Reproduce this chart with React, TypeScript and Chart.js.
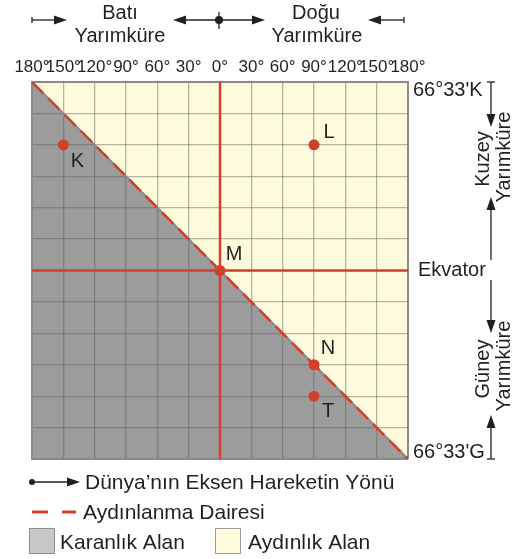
import { useEffect, useRef } from 'react';
import { Chart, registerables } from 'chart.js';

Chart.register(...registerables);

// ---- data ----
const xTickLabels = ['180°', '150°', '120°', '90°', '60°', '30°', '0°', '30°', '60°', '90°', '120°', '150°', '180°'];
const lonMin = -180;
const lonMax = 180;
const rowMin = -6;
const rowMax = 6;
const latLabels = ["66°33'K", 'Ekvator', "66°33'G"];

const pointNames = ['K', 'L', 'M', 'N', 'T'];
const pointLon = [-150, 90, 0, 90, 90];
const pointRow = [4, 4, 0, -3, -4];

const terminatorLon = [-180, 180];
const terminatorRow = [6, -6];
const equatorLon = [-180, 180];
const equatorRow = [0, 0];
const meridianLon = [0, 0];
const meridianRow = [6, -6];

const topHemis = [['Batı', 'Yarımküre'], ['Doğu', 'Yarımküre']];
const sideHemis = [['Kuzey', 'Yarımküre'], ['Güney', 'Yarımküre']];
const legendLabels = ['Dünya’nın Eksen Hareketin Yönü', 'Aydınlanma Dairesi', 'Karanlık Alan', 'Aydınlık Alan'];

// ---- styles ----
const RED = '#d2402b';
const CREAM = '#fdfbdc';
const DARK = '#9c9c9c';
const EDGE = '#8a8a8a';
const GRID = 'rgba(93,93,93,0.45)';
const TEXT = '#231f20';
const FONT = '"Liberation Sans", Arial, sans-serif';

const pts = (xs: number[], ys: number[]) => xs.map((x, i) => ({ x, y: ys[i] }));

function arrowHead(ctx: CanvasRenderingContext2D, x: number, y: number, dir: 'l' | 'r' | 'u' | 'd') {
  const L = 13, W = 4.5;
  ctx.beginPath();
  if (dir === 'r') { ctx.moveTo(x, y); ctx.lineTo(x - L, y - W); ctx.lineTo(x - L, y + W); }
  if (dir === 'l') { ctx.moveTo(x, y); ctx.lineTo(x + L, y - W); ctx.lineTo(x + L, y + W); }
  if (dir === 'd') { ctx.moveTo(x, y); ctx.lineTo(x - W, y - L); ctx.lineTo(x + W, y - L); }
  if (dir === 'u') { ctx.moveTo(x, y); ctx.lineTo(x - W, y + L); ctx.lineTo(x + W, y + L); }
  ctx.closePath();
  ctx.fill();
}

function line(ctx: CanvasRenderingContext2D, x1: number, y1: number, x2: number, y2: number) {
  ctx.beginPath();
  ctx.moveTo(x1, y1);
  ctx.lineTo(x2, y2);
  ctx.stroke();
}

const labelOffsets = [[14, 17], [15, -12], [14, -16], [14, -16], [14, 15]];

const pointLabelPlugin = {
  id: 'pointLabels',
  afterDatasetsDraw(chart: any) {
    const meta = chart.getDatasetMeta(6);
    const ctx = chart.ctx as CanvasRenderingContext2D;
    ctx.save();
    ctx.fillStyle = TEXT;
    ctx.font = `20px ${FONT}`;
    ctx.textAlign = 'center';
    ctx.textBaseline = 'middle';
    meta.data.forEach((el: any, i: number) => {
      ctx.fillText(pointNames[i], el.x + labelOffsets[i][0], el.y + labelOffsets[i][1]);
    });
    ctx.restore();
  },
};

const annotPlugin = {
  id: 'annot',
  afterDraw(chart: any) {
    const ctx = chart.ctx as CanvasRenderingContext2D;
    const a = chart.chartArea;
    const ys = chart.scales.y;
    ctx.save();
    ctx.fillStyle = TEXT;
    ctx.strokeStyle = TEXT;
    ctx.lineWidth = 1.3;

    // top hemisphere labels
    ctx.font = `20px ${FONT}`;
    ctx.textAlign = 'center';
    ctx.textBaseline = 'alphabetic';
    ctx.fillText(topHemis[0][0], 120, 19);
    ctx.fillText(topHemis[0][1], 120, 42);
    ctx.fillText(topHemis[1][0], 316, 19);
    ctx.fillText(topHemis[1][1], 317, 42);

    // top arrows
    const ay = 20;
    line(ctx, a.left, ay - 3, a.left, ay + 3);
    line(ctx, a.left, ay, 60, ay);
    arrowHead(ctx, 67, ay, 'r');
    line(ctx, 180, ay, 258, ay);
    arrowHead(ctx, 173, ay, 'l');
    arrowHead(ctx, 265, ay, 'r');
    ctx.beginPath();
    ctx.arc(219, ay, 4, 0, Math.PI * 2);
    ctx.fill();
    line(ctx, 219, 12, 219, 29);
    line(ctx, 375, ay, a.right - 4, ay);
    arrowHead(ctx, 368, ay, 'l');
    line(ctx, a.right - 4, ay - 3, a.right - 4, ay + 3);

    // right latitude labels
    ctx.textAlign = 'left';
    ctx.textBaseline = 'middle';
    ctx.fillText(latLabels[0], a.right + 5, ys.getPixelForValue(rowMax) + 8);
    ctx.fillText(latLabels[1], a.right + 10, ys.getPixelForValue(0));
    ctx.fillText(latLabels[2], a.right + 5, ys.getPixelForValue(rowMin) - 7);

    // right vertical arrows
    const vx = 491;
    line(ctx, vx - 4, a.top, vx + 4, a.top);
    line(ctx, vx, a.top, vx, 120);
    arrowHead(ctx, vx, 127, 'd');
    line(ctx, vx, 204, vx, 260);
    arrowHead(ctx, vx, 197, 'u');
    line(ctx, vx, 280, vx, 326);
    arrowHead(ctx, vx, 333, 'd');
    line(ctx, vx, 422, vx, a.bottom);
    arrowHead(ctx, vx, 415, 'u');
    line(ctx, vx - 4, a.bottom, vx + 4, a.bottom);

    const rot = (t: string, x: number, y: number) => {
      ctx.save();
      ctx.translate(x, y);
      ctx.rotate(-Math.PI / 2);
      ctx.textAlign = 'center';
      ctx.textBaseline = 'middle';
      ctx.fillText(t, 0, 0);
      ctx.restore();
    };
    rot(sideHemis[0][0], 483, 159);
    rot(sideHemis[0][1], 504, 157);
    rot(sideHemis[1][0], 483, 369);
    rot(sideHemis[1][1], 504, 366);

    // legend
    ctx.font = `21px ${FONT}`;
    ctx.textAlign = 'left';
    ctx.textBaseline = 'alphabetic';
    // row 1
    ctx.beginPath();
    ctx.arc(32, 482, 3, 0, Math.PI * 2);
    ctx.fill();
    line(ctx, 32, 482, 72, 482);
    arrowHead(ctx, 80, 482, 'r');
    ctx.fillText(legendLabels[0], 85, 489);
    // row 2
    ctx.strokeStyle = RED;
    ctx.lineWidth = 3;
    line(ctx, 32, 512, 48, 512);
    line(ctx, 62, 512, 76, 512);
    ctx.fillText(legendLabels[1], 83, 519);
    // row 3
    ctx.lineWidth = 1;
    ctx.fillStyle = '#c8c8c8';
    ctx.strokeStyle = '#8e8e8e';
    ctx.fillRect(29.5, 528.5, 25, 25);
    ctx.strokeRect(29.5, 528.5, 25, 25);
    ctx.fillStyle = CREAM;
    ctx.strokeStyle = '#9a9a9a';
    ctx.fillRect(215.5, 528.5, 25, 25);
    ctx.strokeRect(215.5, 528.5, 25, 25);
    ctx.fillStyle = TEXT;
    ctx.fillText(legendLabels[2], 60, 549);
    ctx.fillText(legendLabels[3], 248, 549);

    ctx.restore();
  },
};

export default function App() {
  const ref = useRef<HTMLCanvasElement | null>(null);

  useEffect(() => {
    document.body.style.margin = '0';
    const canvas = ref.current;
    if (!canvas) return;

    const gridColor = (edgeVal: number[]) => (c: any) =>
      edgeVal.includes(c.tick?.value) ? EDGE : GRID;
    const gridWidth = (edgeVal: number[]) => (c: any) =>
      edgeVal.includes(c.tick?.value) ? 2 : 1.3;

    const chart = new Chart(canvas, {
      type: 'line',
      data: {
        datasets: [
          { order: 7, data: pts(terminatorLon, terminatorRow), fill: 'end', backgroundColor: CREAM, borderWidth: 0, pointRadius: 0 },
          { order: 6, data: pts(terminatorLon, terminatorRow), fill: 'start', backgroundColor: DARK, borderWidth: 0, pointRadius: 0 },
          { order: 5, data: pts(meridianLon, meridianRow), borderColor: RED, borderWidth: 2.5, pointRadius: 0, fill: false },
          { order: 4, data: pts(equatorLon, equatorRow), borderColor: RED, borderWidth: 2.5, pointRadius: 0, fill: false },
          { order: 3, data: pts(terminatorLon, terminatorRow), borderColor: EDGE, borderWidth: 2, pointRadius: 0, fill: false },
          { order: 2, data: pts(terminatorLon, terminatorRow), borderColor: RED, borderWidth: 2.5, borderDash: [16, 7], pointRadius: 0, fill: false },
          {
            order: 1, data: pts(pointLon, pointRow), showLine: false, pointRadius: 5.5, pointBackgroundColor: RED,
            pointBorderWidth: 0, borderColor: RED, fill: false,
          },
        ] as any,
      },
      options: {
        responsive: false,
        animation: false,
        events: [],
        layout: { padding: { left: 32, right: 119, top: 0, bottom: 100 } },
        plugins: {
          legend: { display: false },
          tooltip: { enabled: false },
          filler: { drawTime: 'beforeDraw' } as any,
        },
        scales: {
          x: {
            type: 'linear',
            position: 'top',
            min: lonMin,
            max: lonMax,
            afterFit: (s: any) => { s.height = 82; },
            ticks: {
              stepSize: 30,
              autoSkip: false,
              maxRotation: 0,
              padding: 4,
              color: TEXT,
              font: { family: FONT, size: 17 },
              callback: (_v: any, i: number) => xTickLabels[i],
            },
            grid: { drawTicks: false, color: gridColor([-180, 180]), lineWidth: gridWidth([-180, 180]) },
            border: { display: true, color: EDGE, width: 2 },
          },
          y: {
            type: 'linear',
            min: rowMin,
            max: rowMax,
            afterFit: (s: any) => { s.width = 0; },
            ticks: { display: false, stepSize: 1 },
            grid: { drawTicks: false, color: gridColor([-6, 6]), lineWidth: gridWidth([-6, 6]) },
            border: { display: true, color: EDGE, width: 2 },
          },
        },
      },
      plugins: [pointLabelPlugin, annotPlugin],
    });

    return () => chart.destroy();
  }, []);

  return <canvas ref={ref} width={527} height={559} style={{ display: 'block' }} />;
}
